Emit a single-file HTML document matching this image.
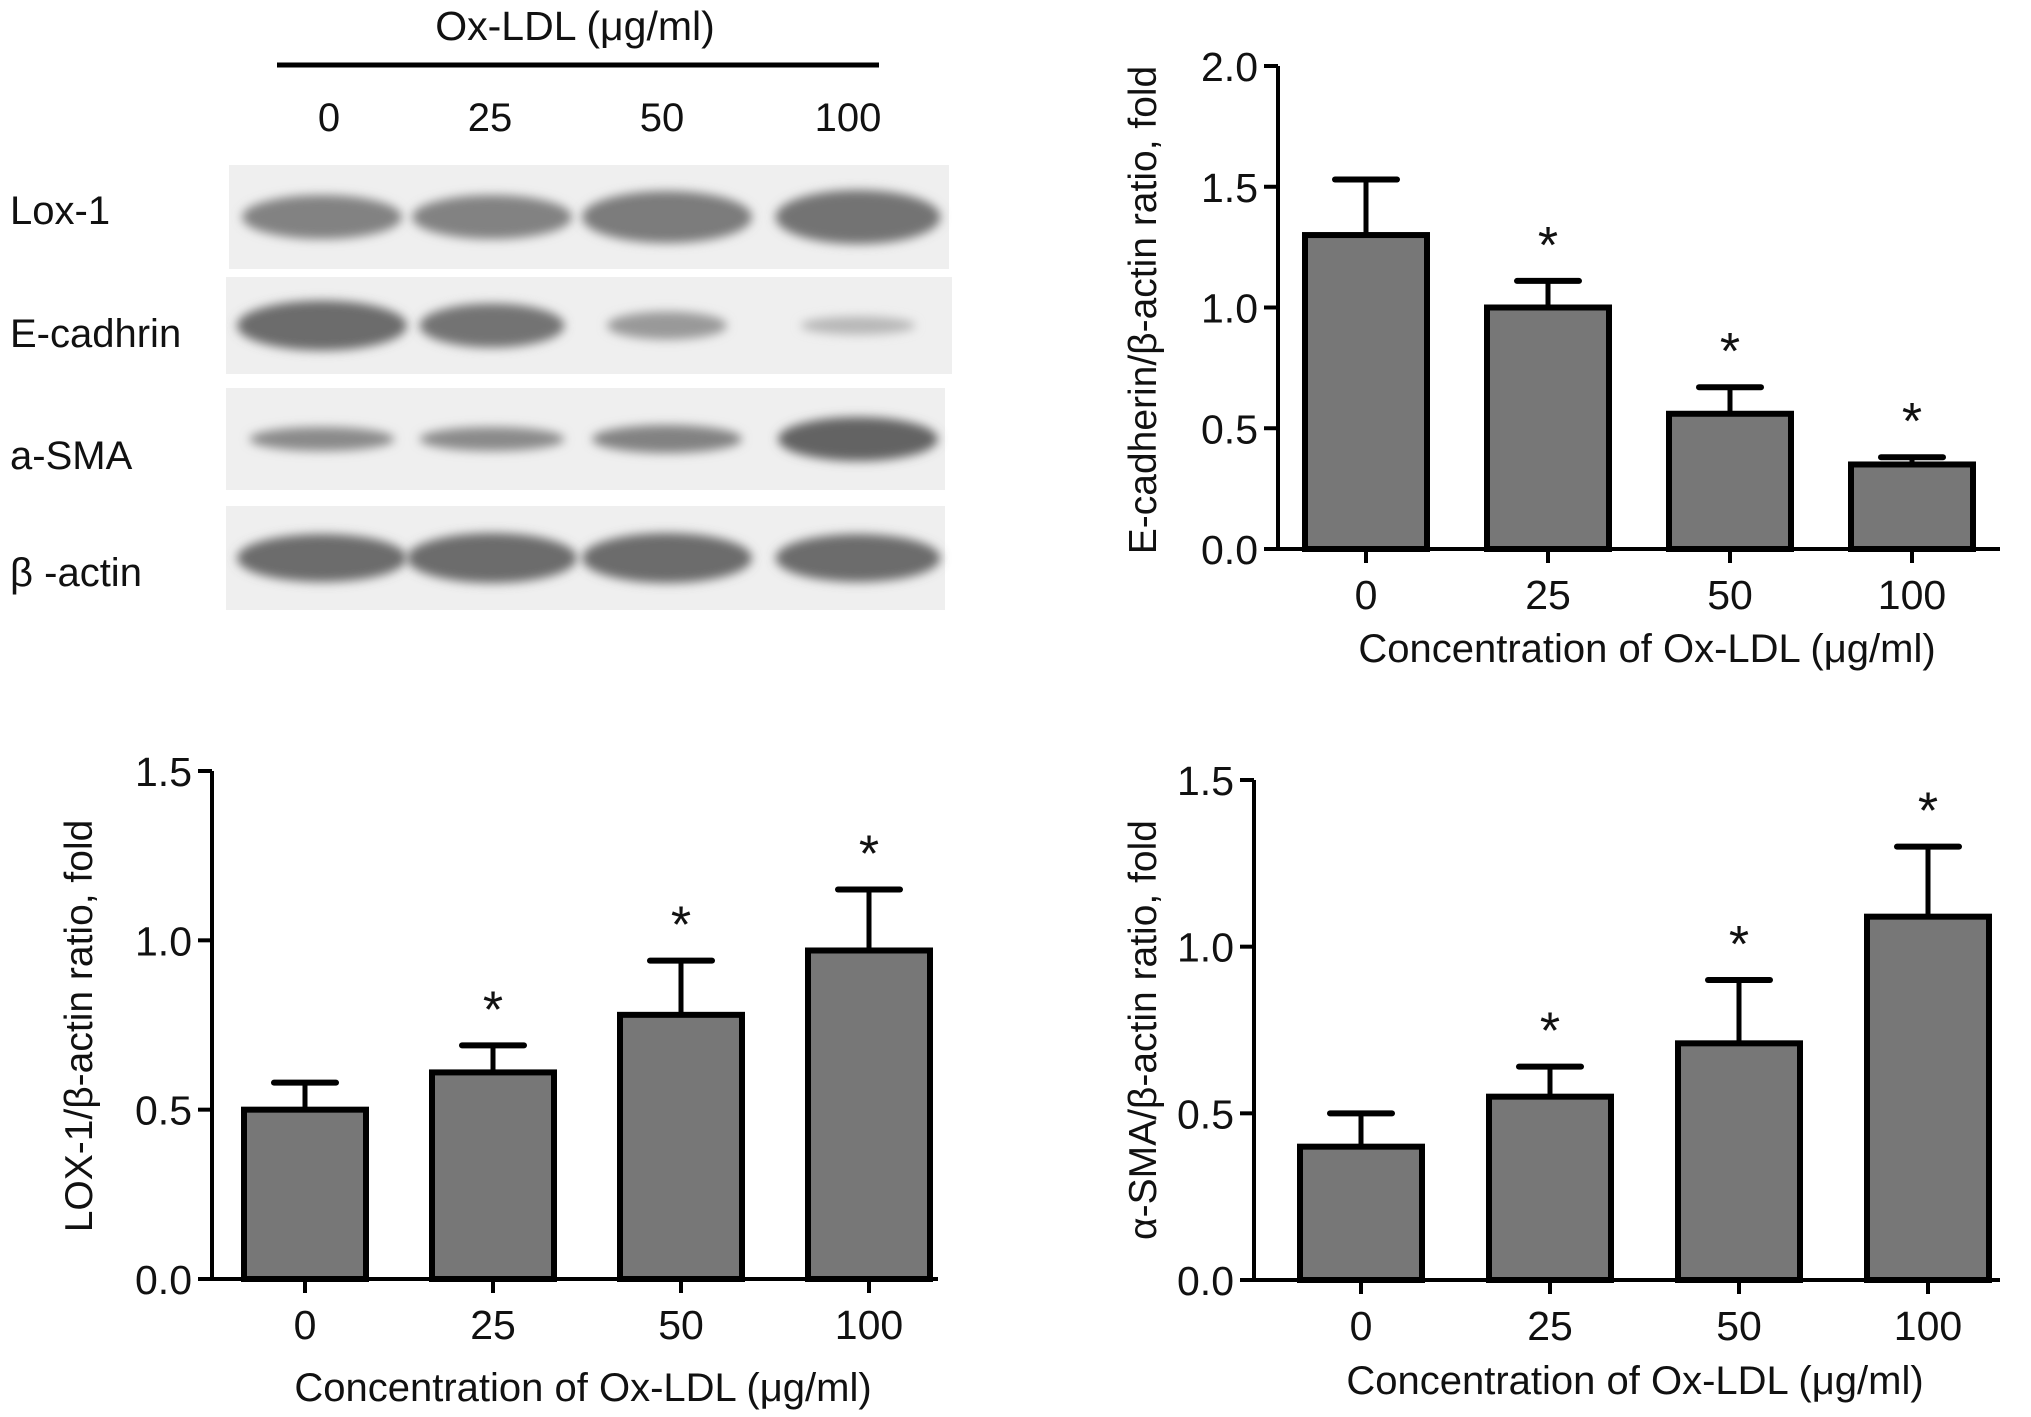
<!DOCTYPE html>
<html><head><meta charset="utf-8"><style>
html,body{margin:0;padding:0;background:#fff;}
svg{display:block;font-family:"Liberation Sans",Arial,sans-serif;}
</style></head><body>
<svg id="fig" width="2031" height="1417" viewBox="0 0 2031 1417">
<defs>
<filter id="blur" x="-30%" y="-60%" width="160%" height="220%"><feGaussianBlur stdDeviation="5"/></filter>
</defs>
<g id="blot">
<text x="575" y="40" font-size="41" text-anchor="middle" fill="#111">Ox-LDL (μg/ml)</text>
<line x1="277" y1="65" x2="879" y2="65" stroke="#000" stroke-width="5"/>
<text x="329" y="131" font-size="40" text-anchor="middle" fill="#111">0</text>
<text x="490" y="131" font-size="40" text-anchor="middle" fill="#111">25</text>
<text x="662" y="131" font-size="40" text-anchor="middle" fill="#111">50</text>
<text x="848" y="131" font-size="40" text-anchor="middle" fill="#111">100</text>
</g>
<g id="charts"></g>
</svg>
<script>
// ---- Blot data ----
var blotRows = ["Lox-1","E-cadhrin","a-SMA","β -actin"];
var blotIntensity = [[0.7,0.7,0.75,0.8],[0.85,0.8,0.55,0.35],[0.65,0.65,0.7,0.9],[0.85,0.85,0.85,0.85]];
var blotWidth = [[160,160,170,165],[170,145,120,115],[145,145,150,160],[170,170,170,165]];
var blotHeight = [[44,44,52,54],[50,44,28,18],[24,24,28,44],[48,50,50,48]];

var panels=[{x:229,y:165,w:720,h:104},{x:226,y:277,w:726,h:97},{x:226,y:388,w:719,h:102},{x:226,y:506,w:719,h:104}];
var laneX=[322,492,667,858];
var labelY=[224,347,469,586];
var blot=document.getElementById('blot');
var NS='http://www.w3.org/2000/svg';
function mk(tag,attrs,parent){var e=document.createElementNS(NS,tag);for(var k in attrs)e.setAttribute(k,attrs[k]);parent.appendChild(e);return e;}
blotRows.forEach(function(name,r){
  var p=panels[r];
  var rect=mk('rect',{x:p.x,y:p.y,width:p.w,height:p.h,fill:'#efefef'},blot);
  
  
  var cy=p.y+p.h/2;
  blotIntensity[r].forEach(function(v,i){
    var g=Math.round(235-v*150);
    var el=mk('ellipse',{cx:laneX[i],cy:cy,rx:blotWidth[r][i]/2,ry:blotHeight[r][i]/2,fill:'rgb('+g+','+g+','+g+')',filter:'url(#blur)'},blot);
    
    
  });
  var t=mk('text',{x:10,y:labelY[r],'font-size':40,fill:'#111'},blot);
  t.textContent=name;
  
  
});

// ---- Chart data ----
var categories = ["0","25","50","100"];
var ecadValues = [1.30,1.00,0.56,0.35];
var ecadErrors = [0.23,0.11,0.11,0.03];
var ecadSig = [false,true,true,true];
var ecadTicks = ["0.0","0.5","1.0","1.5","2.0"];
var loxValues = [0.50,0.61,0.78,0.97];
var loxErrors = [0.08,0.08,0.16,0.18];
var loxSig = [false,true,true,true];
var loxTicks = ["0.0","0.5","1.0","1.5"];
var smaValues = [0.40,0.55,0.71,1.09];
var smaErrors = [0.10,0.09,0.19,0.21];
var smaSig = [false,true,true,true];
var smaTicks = ["0.0","0.5","1.0","1.5"];

var charts=document.getElementById('charts');
function drawChart(cfg){
  var g=mk('g',{},charts);
  
  
  var ymax=parseFloat(cfg.ticks[cfg.ticks.length-1]);
  function yS(v){return cfg.y0-(v/ymax)*(cfg.y0-cfg.yTop);}
  function xS(i){return cfg.centers[0]+i*(cfg.centers[1]-cfg.centers[0]);}
  cfg.vals.forEach(function(v,i){
    var cx=xS(i), top=yS(v+cfg.errs[i]);
    var el=mk('line',{x1:cx,y1:yS(v),x2:cx,y2:top,stroke:'#000','stroke-width':5},g);
    
    
    var cap=mk('line',{x1:cx-31,y1:top,x2:cx+31,y2:top,stroke:'#000','stroke-width':6,'stroke-linecap':'round'},g);
    
    
    var b=mk('rect',{x:cx-cfg.hw,y:yS(v),width:cfg.hw*2,height:cfg.y0-yS(v),fill:'#777',stroke:'#000','stroke-width':6},g);
    
    
    if(cfg.sig[i]){
      var s=mk('text',{x:cx,y:top-18,'font-size':52,'text-anchor':'middle',fill:'#111'},g);
      s.textContent='*';
      
      
    }
    var tk=mk('line',{x1:cx,y1:cfg.y0,x2:cx,y2:cfg.y0+14,stroke:'#000','stroke-width':4},g);
    
    
    var tl=mk('text',{x:cx,y:cfg.y0+60,'font-size':41,'text-anchor':'middle',fill:'#111'},g);
    tl.textContent=cfg.cats[i];
    
    
  });
  cfg.ticks.forEach(function(t){
    var y=yS(parseFloat(t));
    var tk=mk('line',{x1:cfg.ax-14,y1:y,x2:cfg.ax,y2:y,stroke:'#000','stroke-width':4},g);
    
    
    var tl=mk('text',{x:cfg.ax-20,y:y+15,'font-size':41,'text-anchor':'end',fill:'#111'},g);
    tl.textContent=t;
    
    
  });
  var ya=mk('line',{x1:cfg.ax,y1:cfg.yTop,x2:cfg.ax,y2:cfg.y0+2,stroke:'#000','stroke-width':4},g);
  
  
  var xa=mk('line',{x1:cfg.ax-2,y1:cfg.y0,x2:cfg.xEnd,y2:cfg.y0,stroke:'#000','stroke-width':4},g);
  
  
  var xt=mk('text',{x:(cfg.ax+cfg.xEnd)/2+8,y:cfg.xTitleY,'font-size':40,'text-anchor':'middle',fill:'#111'},g);
  xt.textContent='Concentration of Ox-LDL (μg/ml)';
  
  
  var yt=mk('text',{x:0,y:0,'font-size':39,'text-anchor':'middle',fill:'#111',transform:'translate('+cfg.yTitleX+','+cfg.yTitleCY+') rotate(-90)'},g);
  yt.textContent=cfg.yTitle;
  
  
}
drawChart({name:'ecadherin-chart',cats:categories,vals:ecadValues,errs:ecadErrors,sig:ecadSig,ticks:ecadTicks,
  ax:1278,y0:549,yTop:66,xEnd:2000,centers:[1366,1548],hw:61,xTitleY:662,yTitleX:1156,yTitleCY:310,
  yTitle:'E-cadherin/β-actin ratio, fold'});
drawChart({name:'lox1-chart',cats:categories,vals:loxValues,errs:loxErrors,sig:loxSig,ticks:loxTicks,
  ax:212,y0:1279,yTop:771,xEnd:938,centers:[305,493],hw:61,xTitleY:1401,yTitleX:92,yTitleCY:1026,
  yTitle:'LOX-1/β-actin ratio, fold'});
drawChart({name:'asma-chart',cats:categories,vals:smaValues,errs:smaErrors,sig:smaSig,ticks:smaTicks,
  ax:1254,y0:1280,yTop:780,xEnd:2000,centers:[1361,1550],hw:61,xTitleY:1394,yTitleX:1156,yTitleCY:1030,
  yTitle:'α-SMA/β-actin ratio, fold'});
</script>
</body></html>
